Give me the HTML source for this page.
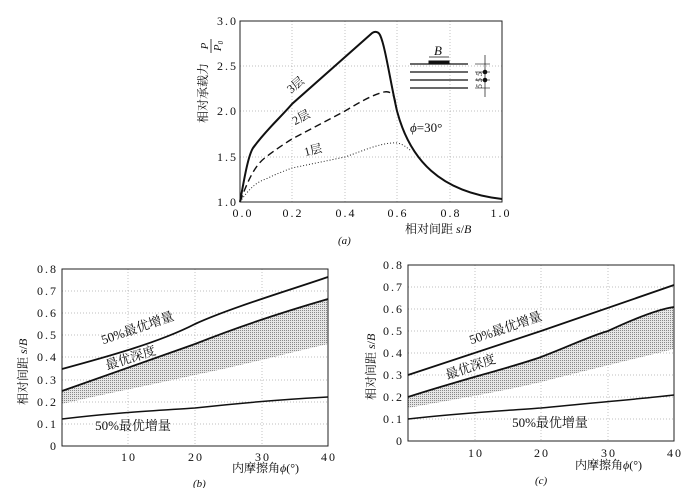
<!DOCTYPE html>
<html><head><meta charset="utf-8"><style>body{margin:0;background:#fff}svg{display:block}text{font-family:"Liberation Serif","Noto Serif CJK SC",serif;fill:#111}.t{letter-spacing:2px}</style></head><body>
<svg width="696" height="488" viewBox="0 0 696 488" xmlns="http://www.w3.org/2000/svg">
<defs>
<pattern id="hp" width="2" height="2" patternUnits="userSpaceOnUse"><rect width="2" height="2" fill="#e6e6e6"/><rect width="1" height="1" fill="#888"/></pattern>
</defs>
<!-- (a) -->
<g stroke="#aaa" stroke-width="0.7" stroke-dasharray="1,2">
<line x1="292" y1="21" x2="292" y2="202"/><line x1="345" y1="21" x2="345" y2="202"/><line x1="397" y1="21" x2="397" y2="202"/><line x1="450" y1="21" x2="450" y2="202"/>
<line x1="240" y1="66" x2="502" y2="66"/><line x1="240" y1="111" x2="502" y2="111"/><line x1="240" y1="157" x2="502" y2="157"/>
</g>
<rect x="240" y="21" width="262" height="181" fill="none" stroke="#222" stroke-width="1"/>
<g font-size="12" text-anchor="end" class="t">
<text x="238" y="25">3.0</text><text x="238" y="70">2.5</text><text x="238" y="115">2.0</text><text x="238" y="161">1.5</text><text x="238" y="206">1.0</text>
</g>
<g font-size="12" text-anchor="middle" class="t">
<text x="243" y="217">0.0</text><text x="293" y="217">0.2</text><text x="346" y="217">0.4</text><text x="398" y="217">0.6</text><text x="451" y="217">0.8</text><text x="501" y="217">1.0</text>
</g>
<text x="405" y="233" font-size="12">相对间距 <tspan font-style="italic">s</tspan>/<tspan font-style="italic">B</tspan></text>
<text x="338" y="244" font-size="11" font-style="italic">(a)</text>
<text transform="translate(207,123) rotate(-90)" font-size="12">相对承载力</text>
<g transform="translate(211,46) rotate(-90)">
<text x="0" y="-3" font-size="11" font-style="italic" text-anchor="middle">P</text>
<line x1="-7" y1="0" x2="7" y2="0" stroke="#111" stroke-width="0.8"/>
<text x="0" y="10" font-size="11" font-style="italic" text-anchor="middle">P<tspan font-size="7" dy="2">0</tspan></text>
</g>
<path d="M240,202 C244,180 248,156 253,148 C266,130 280,118 292,104 L371,34 C374,31 378,31 380,35 C385,45 390,80 397,111 C410,160 440,192 502,199" fill="none" stroke="#111" stroke-width="2"/>
<path d="M240,202 C248,180 255,165 266,157 C275,150 284,144 292,139 L345,111 C360,102 372,95 384,92 C389,91 392,93 394,97 C396,102 396,106 397,111" fill="none" stroke="#111" stroke-width="1.4" stroke-dasharray="7,4"/>
<path d="M240,202 C248,190 256,182 266,179 C276,174 284,171 292,168 L345,157 C365,150 378,144 392,143 C400,142 405,146 410,150" fill="none" stroke="#222" stroke-width="1" stroke-dasharray="1,2"/>
<text x="298" y="88" font-size="12" text-anchor="middle" transform="rotate(-40 298 88)">3层</text>
<text x="303" y="121" font-size="12" text-anchor="middle" transform="rotate(-28 303 121)">2层</text>
<text x="314" y="154" font-size="12" text-anchor="middle" transform="rotate(-14 314 154)">1层</text>
<text x="410" y="132" font-size="13"><tspan font-style="italic">ϕ</tspan>=30°</text>
<g stroke="#111">
<line x1="410" y1="64" x2="468" y2="64" stroke-width="1.2"/><line x1="410" y1="72" x2="468" y2="72" stroke-width="1.2"/><line x1="410" y1="80" x2="468" y2="80" stroke-width="1.2"/><line x1="410" y1="88" x2="468" y2="88" stroke-width="1.2"/>
<rect x="429" y="61" width="20" height="3" fill="#111"/>
<line x1="429" y1="57" x2="449" y2="57" stroke-width="0.7"/>
<line x1="485" y1="55" x2="485" y2="97" stroke-width="0.7"/>
<line x1="475" y1="64" x2="490" y2="64" stroke-width="0.6"/><line x1="475" y1="72" x2="490" y2="72" stroke-width="0.6"/><line x1="475" y1="80" x2="490" y2="80" stroke-width="0.6"/><line x1="475" y1="88" x2="490" y2="88" stroke-width="0.6"/>
</g>
<circle cx="485" cy="72" r="2.3" fill="#111"/><circle cx="485" cy="80" r="2.3" fill="#111"/>
<text x="434" y="55" font-size="13" font-style="italic">B</text>
<text transform="translate(482,88) rotate(-90)" font-size="8" font-style="italic">5 5 5</text>

<!-- (b) -->
<g stroke="#aaa" stroke-width="0.7" stroke-dasharray="1,2">
<line x1="128" y1="269" x2="128" y2="446"/><line x1="195" y1="269" x2="195" y2="446"/><line x1="262" y1="269" x2="262" y2="446"/>
<line x1="62" y1="291" x2="328" y2="291"/><line x1="62" y1="313" x2="328" y2="313"/><line x1="62" y1="335" x2="328" y2="335"/><line x1="62" y1="357" x2="328" y2="357"/><line x1="62" y1="380" x2="328" y2="380"/><line x1="62" y1="402" x2="328" y2="402"/><line x1="62" y1="424" x2="328" y2="424"/>
</g>
<path d="M62,391 L195,344 C240,326 290,310 328,299 L328,344 C280,355 240,366 195,375 C150,385 100,395 62,404 Z" fill="url(#hp)"/>
<rect x="62" y="269" width="266" height="177" fill="none" stroke="#222"/>
<g font-size="12" text-anchor="end" class="t">
<text x="58" y="273">0.8</text><text x="58" y="295">0.7</text><text x="58" y="317">0.6</text><text x="58" y="339">0.5</text><text x="58" y="361">0.4</text><text x="58" y="384">0.3</text><text x="58" y="406">0.2</text><text x="58" y="428">0.1</text><text x="58" y="450">0</text>
</g>
<g font-size="12" text-anchor="middle" class="t"><text x="129" y="461">10</text><text x="196" y="461">20</text><text x="263" y="461">30</text><text x="329" y="461">40</text></g>
<text x="232" y="472" font-size="12">内摩擦角<tspan font-style="italic">ϕ</tspan>(°)</text>
<text x="193" y="487" font-size="11" font-style="italic">(b)</text>
<text transform="translate(27,405) rotate(-90)" font-size="12">相对间距 <tspan font-style="italic">s</tspan>/<tspan font-style="italic">B</tspan></text>
<path d="M62,369 C110,356 160,342 195,324 C230,308 290,290 328,277" fill="none" stroke="#111" stroke-width="1.8"/>
<path d="M62,391 L195,344 C240,326 290,310 328,299" fill="none" stroke="#111" stroke-width="1.8"/>
<path d="M62,419 C110,413 150,411 195,408 C240,403 290,399 328,397" fill="none" stroke="#111" stroke-width="1.5"/>
<text x="139" y="332" font-size="13" text-anchor="middle" transform="rotate(-19 139 332)">50%最优增量</text>
<text x="132" y="362" font-size="13" text-anchor="middle" transform="rotate(-18 132 362)">最优深度</text>
<text x="133" y="430" font-size="13" text-anchor="middle">50%最优增量</text>

<!-- (c) -->
<g stroke="#aaa" stroke-width="0.7" stroke-dasharray="1,2">
<line x1="475" y1="265" x2="475" y2="441"/><line x1="541" y1="265" x2="541" y2="441"/><line x1="608" y1="265" x2="608" y2="441"/>
<line x1="408" y1="287" x2="674" y2="287"/><line x1="408" y1="309" x2="674" y2="309"/><line x1="408" y1="331" x2="674" y2="331"/><line x1="408" y1="353" x2="674" y2="353"/><line x1="408" y1="375" x2="674" y2="375"/><line x1="408" y1="397" x2="674" y2="397"/><line x1="408" y1="419" x2="674" y2="419"/>
</g>
<path d="M408,397 C460,380 510,368 541,357 C570,346 590,336 608,331 C640,316 660,309 674,307 L674,349 C630,360 580,372 541,382 C500,392 450,400 408,408 Z" fill="url(#hp)"/>
<rect x="408" y="265" width="266" height="176" fill="none" stroke="#222"/>
<g font-size="12" text-anchor="end" class="t">
<text x="404" y="269">0.8</text><text x="404" y="291">0.7</text><text x="404" y="313">0.6</text><text x="404" y="335">0.5</text><text x="404" y="357">0.4</text><text x="404" y="379">0.3</text><text x="404" y="401">0.2</text><text x="404" y="423">0.1</text><text x="404" y="445">0</text>
</g>
<g font-size="12" text-anchor="middle" class="t"><text x="476" y="457">10</text><text x="542" y="457">20</text><text x="609" y="457">30</text><text x="675" y="457">40</text></g>
<text x="575" y="469" font-size="12">内摩擦角<tspan font-style="italic">ϕ</tspan>(°)</text>
<text x="535" y="484" font-size="11" font-style="italic">(c)</text>
<text transform="translate(375,400) rotate(-90)" font-size="12">相对间距 <tspan font-style="italic">s</tspan>/<tspan font-style="italic">B</tspan></text>
<path d="M408,375 L541,331 L674,285" fill="none" stroke="#111" stroke-width="1.8"/>
<path d="M408,397 C460,380 510,368 541,357 C570,346 590,336 608,331 C640,316 660,309 674,307" fill="none" stroke="#111" stroke-width="1.8"/>
<path d="M408,419 C460,413 500,411 541,408 C590,403 640,399 674,395" fill="none" stroke="#111" stroke-width="1.5"/>
<text x="507" y="332" font-size="13" text-anchor="middle" transform="rotate(-19 507 332)">50%最优增量</text>
<text x="472" y="371" font-size="13" text-anchor="middle" transform="rotate(-19 472 371)">最优深度</text>
<text x="550" y="427" font-size="13" text-anchor="middle">50%最优增量</text>
</svg>
</body></html>
